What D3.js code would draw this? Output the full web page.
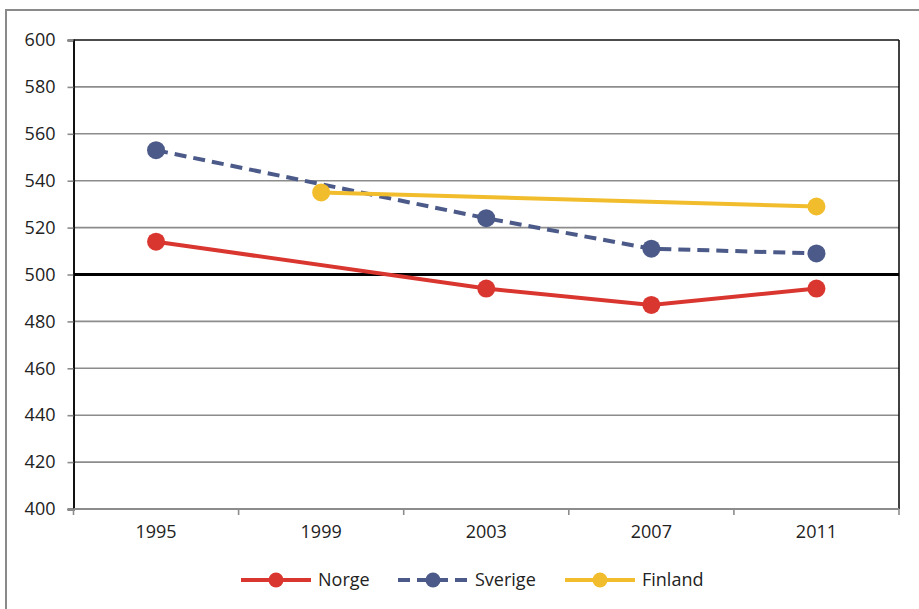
<!DOCTYPE html>
<html>
<head>
<meta charset="utf-8">
<script src="https://cdn.jsdelivr.net/npm/d3@7"></script>
<style>
  html, body { margin: 0; padding: 0; background: #fff; }
  svg { display: block; font-family: "Open Sans", "Noto Sans", sans-serif; }
</style>
</head>
<body>
<svg id="chart" width="919" height="609"></svg>
<script>
// Years on the x axis
const years = ["1995", "1999", "2003", "2007", "2011"];
// Scores per country (null = no participation)
const norge   = [514, null, 494, 487, 494];
const sverige = [553, null, 524, 511, 509];
const finland = [null, 535, null, null, 529];
// Y axis ticks
const yTicks = [400, 420, 440, 460, 480, 500, 520, 540, 560, 580, 600];
const seriesNames = ["Norge", "Sverige", "Finland"];
const seriesColors = ["#da3630", "#4b5a88", "#f2bd2c"];

const fontSize = 18;
const svg = d3.select("#chart");
const plotLeft = 73.5, plotRight = 899, plotTop = 40, plotBottom = 509;

// outer frame
svg.append("rect").attr("x", 6).attr("y", 10).attr("width", 930).attr("height", 620)
  .attr("fill", "none").attr("stroke", "#8a8a8a").attr("stroke-width", 2);

const x = d3.scaleBand().domain(years).range([plotLeft, plotRight]);
const y = d3.scaleLinear().domain([400, 600]).range([plotBottom, plotTop]);

// horizontal gridlines
svg.append("g").selectAll("line").data(yTicks.filter(v => v !== 400 && v !== 500 && v !== 600))
  .join("line")
  .attr("x1", plotLeft).attr("x2", plotRight)
  .attr("y1", d => y(d)).attr("y2", d => y(d))
  .attr("stroke", "#8c8c8c").attr("stroke-width", 1.6);

// plot frame: top and right black
svg.append("line").attr("x1", plotLeft).attr("x2", plotRight).attr("y1", y(600)).attr("y2", y(600))
  .attr("stroke", "#111").attr("stroke-width", 1.6);
svg.append("line").attr("x1", plotRight).attr("x2", plotRight).attr("y1", plotTop).attr("y2", plotBottom)
  .attr("stroke", "#111").attr("stroke-width", 1.6);

// y axis
const yAxis = svg.append("g").attr("transform", `translate(${plotLeft},0)`)
  .call(d3.axisLeft(y).tickValues(yTicks).tickSize(6).tickPadding(12).tickFormat(d3.format("d")));
yAxis.select(".domain").attr("stroke", "#111").attr("stroke-width", 2);
yAxis.selectAll(".tick line").attr("stroke", "#8c8c8c").attr("stroke-width", 1.6);
yAxis.selectAll("text").attr("font-size", fontSize).attr("fill", "#222")
  .attr("font-family", "'Open Sans', 'Noto Sans', sans-serif");

// x axis: ticks at category boundaries
const xg = svg.append("g");
xg.append("line").attr("x1", plotLeft).attr("x2", plotRight).attr("y1", plotBottom).attr("y2", plotBottom)
  .attr("stroke", "#8c8c8c").attr("stroke-width", 2);
const bounds = years.map(d => x(d)).concat([x(years[years.length - 1]) + x.bandwidth()]);
xg.selectAll("line.tk").data(bounds).join("line").attr("class", "tk")
  .attr("x1", d => d).attr("x2", d => d).attr("y1", plotBottom).attr("y2", plotBottom + 6)
  .attr("stroke", "#8c8c8c").attr("stroke-width", 1.6);
xg.selectAll("text").data(years).join("text")
  .attr("x", d => x(d) + x.bandwidth() / 2).attr("y", plotBottom + 29)
  .attr("text-anchor", "middle").attr("font-size", fontSize).attr("fill", "#222")
  .text(d => d);

// reference line at 500
svg.append("line").attr("x1", plotLeft).attr("x2", plotRight).attr("y1", y(500)).attr("y2", y(500))
  .attr("stroke", "#000").attr("stroke-width", 3.2);

const cx = d => x(d) + x.bandwidth() / 2;
const allSeries = [norge, sverige, finland];
const dashes = [null, "12,7", null];

allSeries.forEach((vals, i) => {
  const pts = years.map((yr, j) => ({ yr, v: vals[j] })).filter(p => p.v !== null);
  const line = d3.line().x(p => cx(p.yr)).y(p => y(p.v));
  svg.append("path").datum(pts).attr("d", line)
    .attr("fill", "none").attr("stroke", seriesColors[i]).attr("stroke-width", 4)
    .attr("stroke-dasharray", dashes[i]);
  svg.append("g").selectAll("circle").data(pts).join("circle")
    .attr("cx", p => cx(p.yr)).attr("cy", p => y(p.v)).attr("r", 9)
    .attr("fill", seriesColors[i]);
});

// legend
const legendX = [241, 398, 565];
const lg = svg.append("g");
seriesNames.forEach((name, i) => {
  const g = lg.append("g").attr("transform", `translate(${legendX[i]},580)`);
  g.append("line").attr("x1", 0).attr("x2", 70).attr("y1", 0).attr("y2", 0)
    .attr("stroke", seriesColors[i]).attr("stroke-width", 4)
    .attr("stroke-dasharray", i === 1 ? "12,7" : null);
  g.append("circle").attr("cx", 35).attr("cy", 0).attr("r", 7.5).attr("fill", seriesColors[i]);
  g.append("text").attr("x", 77).attr("y", 6).attr("font-size", fontSize).attr("fill", "#222").text(name);
});
</script>
</body>
</html>
